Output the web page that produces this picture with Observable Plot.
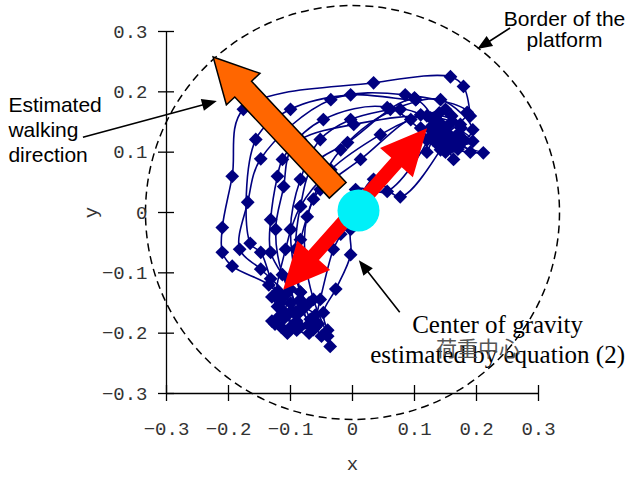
<!DOCTYPE html>
<html><head><meta charset="utf-8">
<script src="https://cdn.jsdelivr.net/npm/d3@7"></script>
<script src="https://cdn.jsdelivr.net/npm/@observablehq/plot@0.6"></script>
<style>body{margin:0;background:#fff}</style>
</head><body><div id="chart"></div>
<script>
// ---- axis ticks ----
const tickValues = [-0.3, -0.2, -0.1, 0, 0.1, 0.2, 0.3];
const tickLabels = ["−0.3", "−0.2", "−0.1", "0", "0.1", "0.2", "0.3"];

// ---- trajectories of the load centre (x, y) ----
const trial01 = [[0.19,0.16],[0.179,0.209],[0.158,0.225],[0.034,0.215],[-0.176,0.171],[-0.194,0.06],[-0.21,-0.025],[-0.21,-0.066],[-0.194,-0.089],[-0.135,-0.12],[-0.116,-0.144],[-0.12,-0.174]];
const trial02 = [[0.15,0.13],[0.185,0.166],[0.085,0.195],[-0.035,0.187],[-0.148,0.089],[-0.169,0.017],[-0.182,-0.061],[-0.148,-0.094],[-0.108,-0.136],[-0.1,-0.165]];
const trial03 = [[0.16,0.11],[0.194,0.118],[0.126,0.157],[0.002,0.146],[-0.084,0.121],[-0.113,0.088],[-0.121,0.06],[-0.132,-0.012],[-0.132,-0.066],[-0.1,-0.127],[-0.09,-0.17]];
const trial04 = [[0.13,0.12],[0.211,0.099],[0.147,0.109],[0.056,0.174],[-0.047,0.154],[-0.1,0.104],[-0.111,0.043],[-0.124,-0.028],[-0.113,-0.103],[-0.084,-0.161],[-0.06,-0.19]];
const trial05 = [[0.14,0.15],[0.163,0.088],[0.102,0.187],[-0.008,0.116],[-0.063,0.079],[-0.084,0.01],[-0.092,-0.061],[-0.084,-0.132],[-0.068,-0.177],[-0.05,-0.205]];
const trial06 = [[0.12,0.1],[0.131,0.142],[0.077,0.171],[-0.019,0.104],[-0.073,-0.007],[-0.076,-0.078],[-0.063,-0.144],[-0.04,-0.205],[-0.036,-0.222]];
const trial07 = [[0.15,0.12],[0.142,0.104],[0.077,0.026],[0.034,0.055],[-0.003,-0.028],[-0.003,-0.07],[-0.027,-0.127],[-0.047,-0.166],[-0.04,-0.195]];
const trial08 = [[0.11,0.14],[0.126,0.137],[0.056,0.035],[0.005,0.038],[-0.019,-0.036],[-0.031,-0.061],[-0.052,-0.144],[-0.063,-0.194]];
const trial09 = [[0.17,0.13],[0.174,0.146],[0.11,0.162],[0.013,0.088],[-0.052,0.038],[-0.063,0.022],[-0.084,-0.045],[-0.1,-0.111],[-0.111,-0.166],[-0.13,-0.18]];
const trial10 = [[0.12,0.16],[0.15,0.171],[0.094,0.154],[0.045,0.129],[-0.035,0.071],[-0.084,0.01],[-0.108,-0.061],[-0.121,-0.156],[-0.084,-0.189]];
const trial11 = [[0.18,0.12],[0.194,0.137],[0.142,0.187],[0.061,0.171],[-0.003,0.154],[-0.052,0.121],[-0.084,0.055],[-0.1,-0.028],[-0.084,-0.132],[-0.07,-0.15]];
const trial12 = [[0.1,0.19],[0.102,0.187],[-0.003,0.195],[-0.1,0.171],[-0.156,0.121],[-0.165,-0.051],[-0.148,-0.066],[-0.132,-0.11],[-0.116,-0.15]];
const trial13 = [[0.13,0.13],[0.15,0.14],[0.14,0.11],[0.165,0.125],[0.15,0.1],[0.17,0.105],[0.135,0.155],[0.16,0.15],[0.125,0.14],[0.145,0.125]];
const trial14 = [[-0.12,-0.13],[-0.1,-0.15],[-0.11,-0.175],[-0.09,-0.18],[-0.08,-0.16],[-0.06,-0.17],[-0.07,-0.2],[-0.1,-0.19],[-0.125,-0.185],[-0.105,-0.2]];
const trial15 = [[0.12,0.12],[0.135,0.135],[0.155,0.115],[0.175,0.14],[0.16,0.16],[0.14,0.165],[0.13,0.145],[0.155,0.13],[0.175,0.115],[0.19,0.1]];
const trial16 = [[-0.13,-0.14],[-0.115,-0.16],[-0.095,-0.165],[-0.085,-0.145],[-0.07,-0.185],[-0.055,-0.185],[-0.09,-0.195],[-0.115,-0.19]];

// ---- annotations (data units) ----
const platformCentre = [0, 0];
const cogPoint = [0.0097, 0.0033];
const walkingArrow = [-0.023, 0.036, -0.224, 0.257];
const swayArrow = [-0.111, -0.129, 0.121, 0.139];
const pointerWalking = [-0.434, 0.124, -0.218, 0.184];
const pointerBorder = [0.255, 0.305, 0.202, 0.270];
const pointerCog = [0.077, -0.166, 0.011, -0.080];

const leftNote = ["Estimated", "walking", "direction"];
const leftNoteY = [0.177, 0.137, 0.0956];
const borderNote = ["Border of the", "platform"];
const borderNoteY = [0.321, 0.285];
const cogNote = ["Center of gravity", "estimated by equation (2)"];
const cogNoteY = [-0.187, -0.237];

const trials = [trial01, trial02, trial03, trial04, trial05, trial06, trial07, trial08, trial09, trial10, trial11, trial12, trial13, trial14, trial15, trial16];
const points = trials.flatMap((t, k) => t.map(([x, y]) => ({trial: k, x, y})));

const svgNS = "http://www.w3.org/2000/svg";
function arrowPath(ax, ay, bx, by, w, hw, hl, dbl) {
  const dx = bx - ax, dy = by - ay, L = Math.hypot(dx, dy);
  const ux = dx / L, uy = dy / L, nx = -uy, ny = ux;
  const P = (t, s) => [ax + ux * t + nx * s, ay + uy * t + ny * s];
  const pts = dbl
    ? [P(0, 0), P(hl, hw / 2), P(hl, w / 2), P(L - hl, w / 2), P(L - hl, hw / 2), P(L, 0), P(L - hl, -hw / 2), P(L - hl, -w / 2), P(hl, -w / 2), P(hl, -hw / 2)]
    : [P(0, w / 2), P(L - hl, w / 2), P(L - hl, hw / 2), P(L, 0), P(L - hl, -hw / 2), P(L - hl, -w / 2), P(0, -w / 2)];
  return "M" + pts.map(p => p[0].toFixed(2) + "," + p[1].toFixed(2)).join("L") + "Z";
}
function blockArrow(a, {w, hw, hl, dbl = false, fill, stroke = "none", strokeWidth = 0}) {
  return (index, scales) => {
    const p = document.createElementNS(svgNS, "path");
    p.setAttribute("d", arrowPath(scales.x(a[0]), scales.y(a[1]), scales.x(a[2]), scales.y(a[3]), w, hw, hl, dbl));
    p.setAttribute("fill", fill);
    p.setAttribute("stroke", stroke);
    p.setAttribute("stroke-width", strokeWidth);
    p.setAttribute("stroke-linejoin", "miter");
    return p;
  };
}

const navy = "#000080";
const tickFont = {fontFamily: "Liberation Mono", fontSize: 19, fill: "#333"};
const chart = Plot.plot({
  width: 633,
  height: 477,
  marginLeft: 166,
  marginRight: 95,
  marginTop: 31,
  marginBottom: 84,
  style: {fontFamily: "Liberation Mono", fontSize: "19px", color: "#333", background: "#fff", overflow: "visible"},
  x: {domain: [-0.3, 0.3], label: null},
  y: {domain: [-0.3, 0.3], label: null},
  marks: [
    Plot.line(points, {x: "x", y: "y", z: "trial", stroke: navy, strokeWidth: 1.6, curve: "catmull-rom"}),
    Plot.dot(points, {x: "x", y: "y", symbol: "diamond2", r: 6.2, fill: navy, stroke: "none"}),
    Plot.dot([platformCentre], {x: d => d[0], y: d => d[1], r: 207, fill: "none", stroke: "#000", strokeWidth: 1.5, strokeDasharray: "8,5"}),
    Plot.ruleY([-0.3], {stroke: "#000", strokeWidth: 1.3}),
    Plot.ruleX([-0.3], {stroke: "#000", strokeWidth: 1.3}),
    Plot.ruleX(tickValues, {x: d => d, y1: -0.3, y2: -0.3, insetTop: -8, insetBottom: -8, stroke: "#000", strokeWidth: 1.3}),
    Plot.ruleY(tickValues, {y: d => d, x1: -0.3, x2: -0.3, insetLeft: -8, insetRight: -8, stroke: "#000", strokeWidth: 1.3}),
    Plot.axisX({ticks: tickValues, tickSize: 0, tickPadding: 28, tickFormat: (d) => tickLabels[tickValues.indexOf(d)], label: null, ...tickFont}),
    Plot.axisY({ticks: tickValues, tickSize: 0, tickPadding: 19, tickFormat: (d) => tickLabels[tickValues.indexOf(d)], label: null, ...tickFont}),
    Plot.text(["x"], {x: 0, y: -0.416, text: d => d, ...tickFont}),
    Plot.text(["y"], {x: -0.4226, y: 0, text: d => d, rotate: -90, ...tickFont}),
    blockArrow(walkingArrow, {w: 23, hw: 46, hl: 44, fill: "#ff6600", stroke: "#000", strokeWidth: 1.5}),
    blockArrow(swayArrow, {w: 14, hw: 44, hl: 46, dbl: true, fill: "#ff0000"}),
    Plot.dot([cogPoint], {x: d => d[0], y: d => d[1], r: 21, fill: "#00f0f8", stroke: "none"}),
    blockArrow(pointerWalking, {w: 1.6, hw: 12, hl: 15, fill: "#000"}),
    blockArrow(pointerBorder, {w: 1.6, hw: 12, hl: 15, fill: "#000"}),
    blockArrow(pointerCog, {w: 1.6, hw: 12, hl: 15, fill: "#000"}),
    Plot.text(leftNote, {x: -0.555, y: (d, i) => leftNoteY[i], text: d => d, textAnchor: "start", fontFamily: "Liberation Sans", fontSize: 21, fill: "#000"}),
    Plot.text(borderNote, {x: 0.342, y: (d, i) => borderNoteY[i], text: d => d, fontFamily: "Liberation Sans", fontSize: 21, fill: "#000"}),
    Plot.text(cogNote, {x: 0.234, y: (d, i) => cogNoteY[i], text: d => d, fontFamily: "Liberation Serif", fontSize: 25, fill: "#000"}),
    Plot.text(["荷重中心"], {x: 0.2024, y: -0.227, text: d => d, fontFamily: "Noto Sans CJK JP", fontSize: 21, fill: "#555"})
  ]
});
document.getElementById("chart").appendChild(chart);
</script>
</body></html>
